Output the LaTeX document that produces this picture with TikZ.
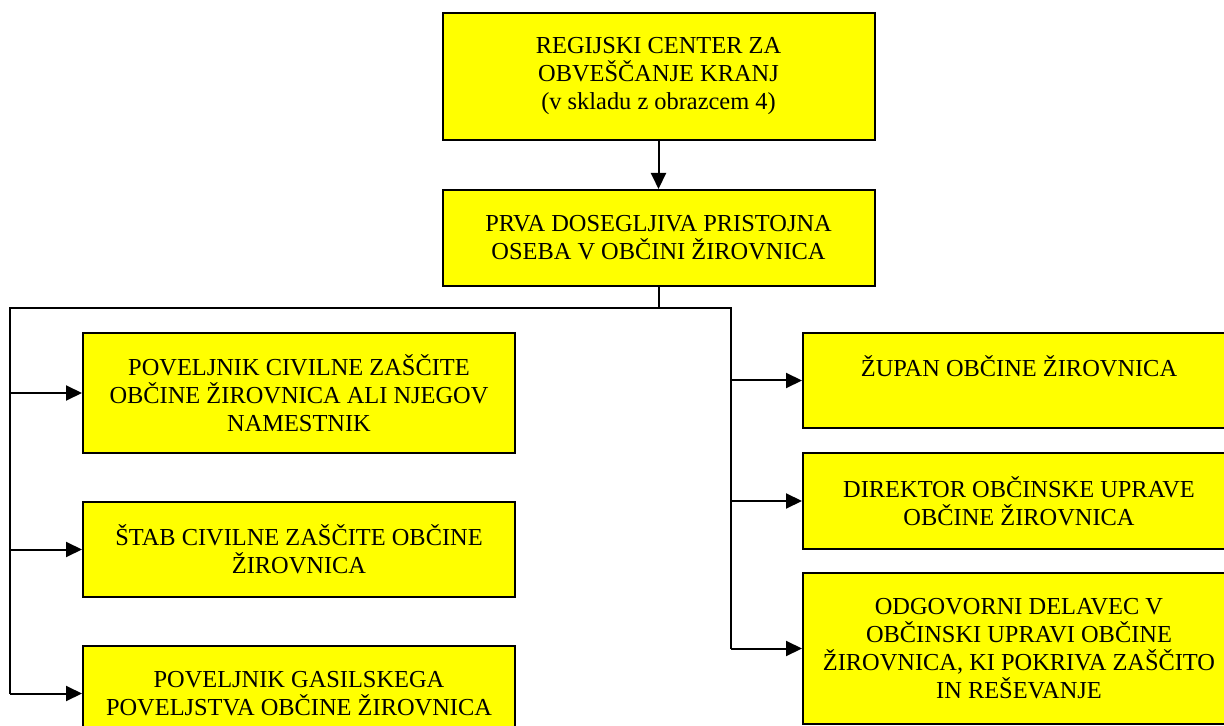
\documentclass[tikz,border=0pt]{standalone}
\usepackage{fontspec}
\setmainfont{Liberation Serif}
\usetikzlibrary{arrows.meta, positioning}
\definecolor{boxyellow}{RGB}{255,255,0}

\begin{document}
\begin{tikzpicture}[x=0.5pt, y=-0.5pt, node distance=24pt,
    box/.style={draw, line width=1pt, fill=boxyellow, minimum width=216pt, align=center,
                inner sep=2pt, font=\fontsize{12.2}{14}\selectfont},
    link/.style={line width=1pt},
    arrow/.style={line width=1pt, -{Triangle[length=8pt, width=7.5pt]}}]
    \clip (0,0) rectangle (1224,726);

    \node[box, minimum height=63.5pt]                   (Center)  at (658.5,76.5) {REGIJSKI CENTER ZA\\OBVEŠČANJE KRANJ\\(v skladu z obrazcem 4)};
    \node[box, minimum height=48pt, below=of Center]    (Contact) {PRVA DOSEGLJIVA PRISTOJNA\\OSEBA V OBČINI ŽIROVNICA};

    \node[box, minimum height=60pt, anchor=north west]  (Left 1)  at (82,332) {POVELJNIK CIVILNE ZAŠČITE\\OBČINE ŽIROVNICA ALI NJEGOV\\NAMESTNIK};
    \node[box, minimum height=47.5pt, below=23.5pt of Left 1] (Left 2) {ŠTAB CIVILNE ZAŠČITE OBČINE\\ŽIROVNICA};
    \node[box, minimum height=47.5pt, below=23.5pt of Left 2] (Left 3) {POVELJNIK GASILSKEGA\\POVELJSTVA OBČINE ŽIROVNICA};

    \node[box, minimum height=47.5pt, anchor=north west] (Right 1) at (802,332) {ŽUPAN OBČINE ŽIROVNICA\\\mbox{}};
    \node[box, minimum height=48pt, below=11.5pt of Right 1] (Right 2) {DIREKTOR OBČINSKE UPRAVE\\OBČINE ŽIROVNICA};
    \node[box, minimum height=75.5pt, below=11pt of Right 2]  (Right 3) {ODGOVORNI DELAVEC V\\OBČINSKI UPRAVI OBČINE\\ŽIROVNICA, KI POKRIVA ZAŠČITO\\IN REŠEVANJE};

    \coordinate (Bus left)  at (10,308);
    \coordinate (Bus right) at (731,308);

    \draw[arrow] (Center) -- (Contact);
    \draw[link] (Contact.south) -- (Contact.south |- Bus left);
    \draw[link] (Bus left |- Left 3.west) -- (Bus left) -- (Bus right) -- (Bus right |- Right 3.west);

    \draw[arrow] (Bus left |- Left 1.west)   -- (Left 1.west);
    \draw[arrow] (Bus left |- Left 2.west)   -- (Left 2.west);
    \draw[arrow] (Bus left |- Left 3.west)   -- (Left 3.west);
    \draw[arrow] (Bus right |- Right 1.west) -- (Right 1.west);
    \draw[arrow] (Bus right |- Right 2.west) -- (Right 2.west);
    \draw[arrow] (Bus right |- Right 3.west) -- (Right 3.west);
\end{tikzpicture}
\end{document}
